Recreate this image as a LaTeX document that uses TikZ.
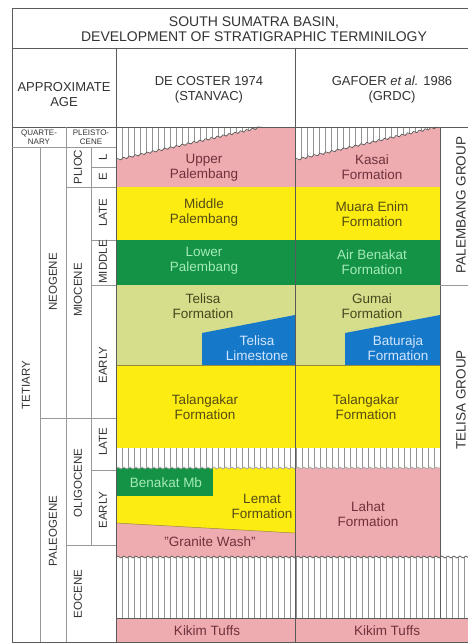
\documentclass[tikz,border=0pt]{standalone}
\usepackage{fontspec}
\setmainfont{Liberation Sans}
\usetikzlibrary{decorations.pathmorphing}

\definecolor{unitpink}{RGB}{239,172,176}
\definecolor{unityellow}{RGB}{252,236,18}
\definecolor{unitgreen}{RGB}{20,146,70}
\definecolor{unitlime}{RGB}{214,222,140}
\definecolor{unitblue}{RGB}{22,120,200}
\definecolor{unitedge}{RGB}{150,138,60}
\definecolor{rulegray}{RGB}{90,90,90}
\definecolor{txtpink}{RGB}{110,50,60}
\definecolor{txtyellow}{RGB}{85,75,20}
\definecolor{txtgreen}{RGB}{165,235,185}
\definecolor{txtlime}{RGB}{70,70,30}
\definecolor{txtblue}{RGB}{210,230,255}

% hatch lines: first x, second x, last x, top y, bottom y
\newcommand{\hatchband}[5]{\foreach \hx in {#1,#2,...,#3} \draw[hatch] (\hx,#4) -- (\hx,#5);}

\begin{document}
\begin{tikzpicture}[x=1pt, y=-1pt,
  rule/.style={draw=rulegray, line width=0.9pt},
  thinrule/.style={draw=gray!80, line width=0.6pt},
  hatch/.style={draw=gray!85, line width=0.6pt},
  wavy/.style={draw=black!65, line width=0.7pt, decorate, decoration={snake, amplitude=1pt, segment length=6pt}},
  unit/.style={align=center, inner sep=0pt, font=\fontsize{13.5}{15}\selectfont},
  head/.style={align=center, inner sep=0pt, text=black!80, font=\fontsize{13}{15}\selectfont},
  agelbl/.style={rotate=90, inner sep=0pt, text=black!80, font=\fontsize{11.5}{13}\selectfont}]

\useasboundingbox (0,0) rectangle (467,644);
\fill[white] (0,0) rectangle (467,644);

% De Coster 1974
\fill[unitpink] (116,127) rectangle (295,187);
\fill[unityellow] (116,187) rectangle (295,240);
\fill[unitgreen] (116,240) rectangle (295,285);
\fill[unitlime] (116,285) rectangle (295,365);
\fill[unitblue] (202,333) -- (295,315) -- (295,365) -- (202,365) -- cycle;
\fill[unityellow] (116,365) rectangle (295,448);
\fill[unityellow] (116,468) rectangle (295,533);
\fill[unitgreen] (116,468) rectangle (213,496);
\fill[unitpink] (116,523) -- (295,533) -- (295,557) -- (116,557) -- cycle;

% Gafoer et al. 1986
\fill[unitpink] (295,127) rectangle (440,187);
\fill[unityellow] (295,187) rectangle (440,240);
\fill[unitgreen] (295,240) rectangle (440,285);
\fill[unitlime] (295,285) rectangle (440,365);
\fill[unitblue] (345,333) -- (440,315) -- (440,365) -- (345,365) -- cycle;
\fill[unityellow] (295,365) rectangle (440,448);
\fill[unitpink] (295,468) rectangle (440,557);

\fill[unitpink] (116,618) rectangle (496,642);

\draw[unitedge, line width=0.5pt] (116,365) -- (440,365);
\draw[unitedge, line width=0.5pt] (116,523) -- (295,533);

% hiatus
\begin{scope}
  \clip (116,127) -- (116,160) -- (262,127) -- cycle;
  \fill[white] (116,127) rectangle (295,160);
  \hatchband{116}{122}{296}{127}{160}
\end{scope}
\begin{scope}
  \clip (295,127) -- (295,160) -- (437,127) -- cycle;
  \fill[white] (295,127) rectangle (440,160);
  \hatchband{295}{301}{440}{127}{160}
\end{scope}
\hatchband{122}{128}{436}{448}{468}
\hatchband{122}{128}{496}{557}{618}
\draw[wavy] (116,160) -- (262,127);
\draw[wavy] (295,160) -- (437,127);
\draw[wavy, draw=gray!70] (116,468) -- (440,468);
\draw[wavy] (116,557) -- (496,557);
\draw[rule] (116,618) -- (496,618);

% frame
\draw[rule] (12,8) rectangle (496,642);
\draw[rule] (12,48) -- (496,48);
\draw[rule] (12,127) -- (496,127);
\draw[rule] (116,48) -- (116,642);
\draw[rule] (295,48) -- (295,642);
\draw[rule] (440,127) -- (440,618);
\draw[thinrule] (440,285) -- (496,285);

% age columns
\draw[thinrule] (40,147) -- (40,642);
\draw[thinrule] (66,127) -- (66,642);
\draw[thinrule] (91,147) -- (91,545);
\draw[thinrule] (12,147) -- (116,147);
\draw[thinrule] (91,167) -- (116,167);
\draw[thinrule] (66,187) -- (116,187);
\draw[thinrule] (91,240) -- (116,240);
\draw[thinrule] (91,285) -- (116,285);
\draw[thinrule] (40,418) -- (116,418);
\draw[thinrule] (91,470) -- (116,470);
\draw[thinrule] (66,545) -- (116,545);

% headings
\node (title) [head, font=\fontsize{14}{15}\selectfont] at (254,29) {SOUTH SUMATRA BASIN,\\DEVELOPMENT OF STRATIGRAPHIC TERMINILOGY};
\node (agehd) [head] at (64,95) {APPROXIMATE\\AGE};
\node (coster) [head] at (209,90) {DE COSTER 1974\\(STANVAC)};
\node (gafoer) [head] at (392,90) {GAFOER {\itshape et al.} 1986\\(GRDC)};

\node (quat) [head, font=\fontsize{8}{8.5}\selectfont] at (39,137) {QUARTE-\\NARY};
\node (pleist) [head, font=\fontsize{8}{8.5}\selectfont] at (91,137) {PLEISTO-\\CENE};
\node (tert) [agelbl] at (26,385) {TETIARY};
\node (neog) [agelbl] at (53,282) {NEOGENE};
\node (paleog) [agelbl] at (53,531) {PALEOGENE};
\node (plioc) [agelbl] at (78,167) {PLIOC};
\node (mioc) [agelbl] at (78,290) {MIOCENE};
\node (oligoc) [agelbl] at (78,483) {OLIGOCENE};
\node (eoc) [agelbl] at (78,594) {EOCENE};
\node (pliol) [agelbl] at (103,157) {L};
\node (plioe) [agelbl] at (103,177) {E};
\node (miol) [agelbl] at (103,213) {LATE};
\node (miom) [agelbl] at (103,262) {MIDDLE};
\node (mioe) [agelbl] at (103,365) {EARLY};
\node (oligl) [agelbl] at (103,442) {LATE};
\node (olige) [agelbl] at (103,510) {EARLY};

% De Coster units
\node (upal) [unit, text=txtpink] at (204,168) {Upper\\Palembang};
\node (mpal) [unit, text=txtyellow] at (204,213) {Middle\\Palembang};
\node (lpal) [unit, text=txtgreen] at (204,261) {Lower\\Palembang};
\node (telf) [unit, text=txtlime] at (203,306) {Telisa\\Formation};
\node (tellst) [unit, text=txtblue] at (257,348) {Telisa\\Limestone};
\node (talc) [unit, text=txtyellow] at (205,407) {Talangakar\\Formation};
\node (benmb) [unit, text=txtgreen] at (166,483) {Benakat Mb};
\node (lemat) [unit, text=txtyellow] at (262,506) {Lemat\\Formation};
\node (granw) [unit, text=txtpink] at (210,542) {"Granite Wash"};
\node (kikc) [unit, text=txtpink] at (207,631) {Kikim Tuffs};

% Gafoer units
\node (kasai) [unit, text=txtpink] at (372,167) {Kasai\\Formation};
\node (muara) [unit, text=txtyellow] at (372,214) {Muara Enim\\Formation};
\node (airben) [unit, text=txtgreen] at (372,262) {Air Benakat\\Formation};
\node (gumai) [unit, text=txtlime] at (372,306) {Gumai\\Formation};
\node (batu) [unit, text=txtblue] at (398,348) {Baturaja\\Formation};
\node (talg) [unit, text=txtyellow] at (366,407) {Talangakar\\Formation};
\node (lahat) [unit, text=txtpink] at (368,514) {Lahat\\Formation};
\node (kikg) [unit, text=txtpink] at (387,631) {Kikim Tuffs};

% groups
\node (palgrp) [agelbl, font=\fontsize{13.5}{15}\selectfont] at (461,205) {PALEMBANG GROUP};
\node (telgrp) [agelbl, font=\fontsize{13.5}{15}\selectfont] at (461,400) {TELISA GROUP};

\end{tikzpicture}
\end{document}
